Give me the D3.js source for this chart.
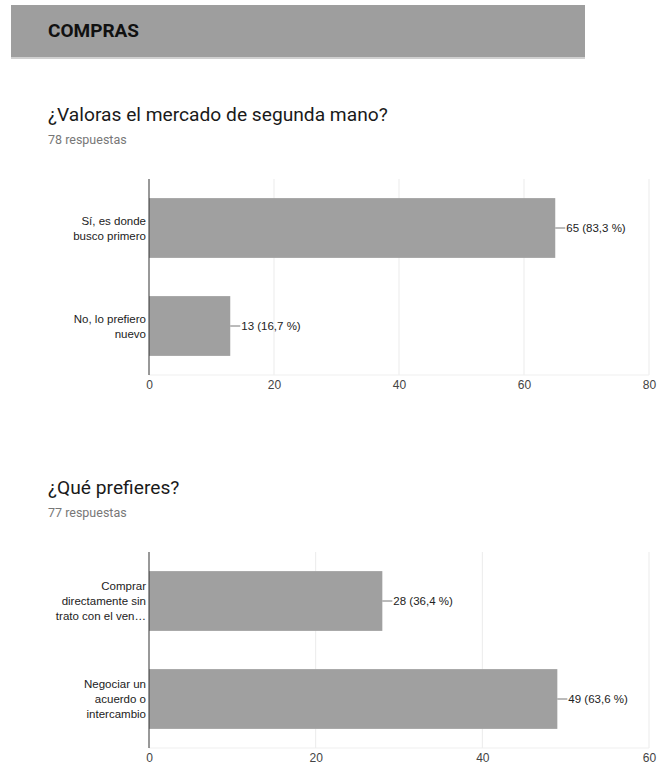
<!DOCTYPE html>
<html>
<head>
<meta charset="utf-8">
<script src="https://cdn.jsdelivr.net/npm/d3@7"></script>
<style>
  body { margin: 0; background: #fff; }
  svg { display: block; }
</style>
</head>
<body>
<div class="container"></div>
<script>
// section + question texts
const sectionTitle = "COMPRAS";

const q1Title = "¿Valoras el mercado de segunda mano?";
const q1Count = "78 respuestas";
const q1Labels = [["Sí, es donde", "busco primero"], ["No, lo prefiero", "nuevo"]];
const q1Values = [65, 13];
const q1Percents = ["83,3 %", "16,7 %"];
const q1Ticks = [0, 20, 40, 60, 80];

const q2Title = "¿Qué prefieres?";
const q2Count = "77 respuestas";
const q2Labels = [["Comprar", "directamente sin", "trato con el ven…"], ["Negociar un", "acuerdo o", "intercambio"]];
const q2Values = [28, 49];
const q2Percents = ["36,4 %", "63,6 %"];
const q2Ticks = [0, 20, 40, 60];

const w = 668;
const h = 766;
const barColor = "#a0a0a0";

const svg = d3.select(".container")
    .append("svg")
    .attr("width", w)
    .attr("height", h);

// grey section header
svg.append("rect")
    .attr("x", 11).attr("y", 5)
    .attr("width", 574).attr("height", 52)
    .attr("fill", "#9e9e9e");
svg.append("rect")
    .attr("x", 11).attr("y", 57)
    .attr("width", 574).attr("height", 2)
    .attr("fill", "#d0d0d0");
svg.append("text")
    .attr("x", 48).attr("y", 37)
    .attr("font-family", "Roboto")
    .attr("font-weight", "bold")
    .attr("font-size", 19)
    .attr("fill", "#111")
    .text(sectionTitle);

const drawQuestion = (top, title, count, labels, values, percents, ticks) => {
    const g = svg.append("g").attr("transform", "translate(0," + top + ")");

    g.append("text")
        .attr("x", 48).attr("y", 0)
        .attr("font-family", "Roboto")
        .attr("font-size", 19.2)
        .attr("fill", "#1a1a1a")
        .text(title);
    g.append("text")
        .attr("x", 48).attr("y", 23)
        .attr("font-family", "Roboto")
        .attr("font-size", 12.5)
        .attr("fill", "#777")
        .text(count);

    const plotTop = 58;
    const plotBottom = 254;

    const xScale = d3.scaleLinear()
        .domain([0, d3.max(ticks)])
        .range([149, 649]);

    const yScale = d3.scaleBand()
        .domain(d3.range(values.length))
        .range([plotTop, plotBottom])
        .paddingInner(0.39)
        .paddingOuter(0.195);

    // gridlines
    g.selectAll(".grid")
        .data(ticks.slice(1))
        .enter()
        .append("line")
        .attr("x1", d => xScale(d)).attr("x2", d => xScale(d))
        .attr("y1", plotTop).attr("y2", plotBottom)
        .attr("stroke", "#ebebeb");
    g.append("line")
        .attr("x1", xScale(0)).attr("x2", xScale(d3.max(ticks)))
        .attr("y1", plotBottom).attr("y2", plotBottom)
        .attr("stroke", "#efefef");

    g.selectAll(".bar")
        .data(values)
        .enter()
        .append("rect")
        .attr("x", xScale(0))
        .attr("y", (d, i) => yScale(i))
        .attr("width", d => xScale(d) - xScale(0))
        .attr("height", yScale.bandwidth())
        .attr("fill", barColor);

    // baseline at zero
    g.append("line")
        .attr("x1", xScale(0)).attr("x2", xScale(0))
        .attr("y1", plotTop).attr("y2", plotBottom)
        .attr("stroke", "#333");

    // value labels with leader line
    values.forEach((v, i) => {
        const cy = yScale(i) + yScale.bandwidth() / 2;
        g.append("line")
            .attr("x1", xScale(v)).attr("x2", xScale(v) + 10)
            .attr("y1", cy).attr("y2", cy)
            .attr("stroke", "#777");
        g.append("text")
            .attr("x", xScale(v) + 11).attr("y", cy + 4)
            .attr("font-family", "Liberation Sans")
            .attr("font-size", 11.5)
            .attr("fill", "#222")
            .text(v + " (" + percents[i] + ")");
    });

    // category labels, wrapped
    labels.forEach((lines, i) => {
        const cy = yScale(i) + yScale.bandwidth() / 2;
        const lh = 15;
        const start = cy - (lines.length - 1) * lh / 2 + 4;
        const t = g.append("text")
            .attr("text-anchor", "end")
            .attr("font-family", "Liberation Sans")
            .attr("font-size", 11.5)
            .attr("fill", "#222");
        lines.forEach((line, j) => {
            t.append("tspan")
                .attr("x", 146)
                .attr("y", start + j * lh)
                .text(line);
        });
    });

    const xAxis = d3.axisBottom(xScale)
        .tickValues(ticks)
        .tickSize(0)
        .tickPadding(0)
        .tickFormat(d3.format("d"));

    const ax = g.append("g")
        .attr("transform", "translate(0," + plotBottom + ")")
        .call(xAxis);
    ax.select(".domain").remove();
    ax.selectAll("text")
        .attr("dy", null)
        .attr("y", 14)
        .attr("font-family", "Liberation Sans")
        .attr("font-size", 12)
        .attr("fill", "#444");
};

drawQuestion(121, q1Title, q1Count, q1Labels, q1Values, q1Percents, q1Ticks);
drawQuestion(494, q2Title, q2Count, q2Labels, q2Values, q2Percents, q2Ticks);
</script>
</body>
</html>
